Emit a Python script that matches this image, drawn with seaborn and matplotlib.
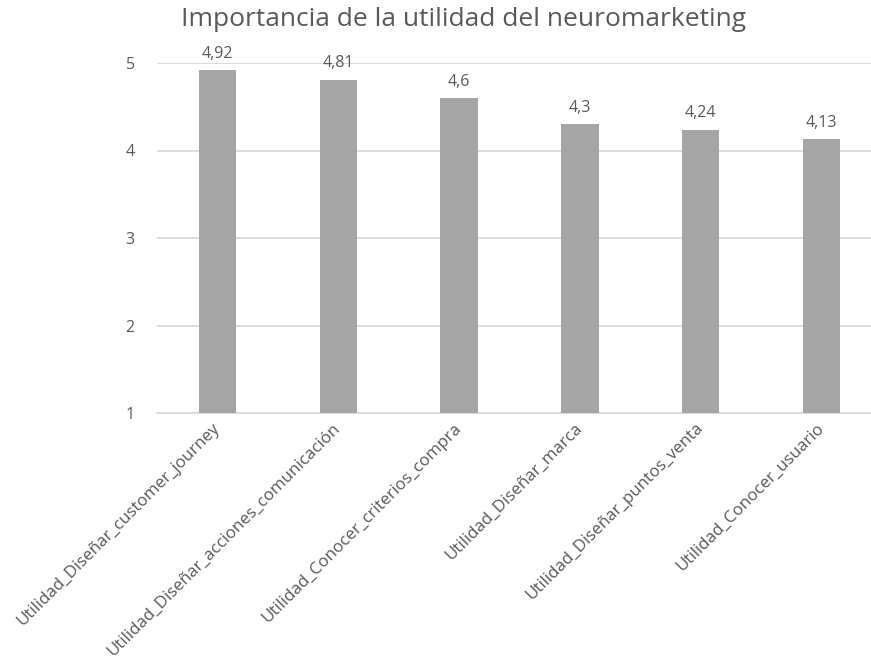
import matplotlib
matplotlib.use("Agg")
import matplotlib.pyplot as plt
import seaborn as sns
import pandas as pd

categories = [
    "Utilidad_Diseñar_customer_journey",
    "Utilidad_Diseñar_acciones_comunicación",
    "Utilidad_Conocer_criterios_compra",
    "Utilidad_Diseñar_marca",
    "Utilidad_Diseñar_puntos_venta",
    "Utilidad_Conocer_usuario",
]
values = [4.92, 4.81, 4.6, 4.3, 4.24, 4.13]
y_ticks = [1, 2, 3, 4, 5]
title = "Importancia de la utilidad del neuromarketing"

sns.set_theme(style="white")
plt.rcParams["font.family"] = ["Open Sans", "DejaVu Sans"]

text_color = "#595959"
bar_color = "#A5A5A5"
grid_color = "#D9D9D9"

df = pd.DataFrame({"categoria": categories, "valor": values})

fig = plt.figure(figsize=(8.71, 6.72), dpi=100)
W, H = 871, 672
ax = fig.add_axes([157 / W, 1 - 413 / H, 725 / W, 350 / H])

sns.barplot(data=df, x="categoria", y="valor", color=bar_color,
            width=0.31, saturation=1, ax=ax, zorder=3)
for p in ax.patches:
    p.set_edgecolor("none")

ax.set_ylim(1, 5)
ax.set_yticks(y_ticks)
ax.set_yticklabels([str(t) for t in y_ticks])
ax.yaxis.grid(True, color=grid_color, linewidth=1.3, zorder=0)
ax.xaxis.grid(False)
for s in ax.spines.values():
    s.set_visible(False)
ax.axhline(1, color=grid_color, linewidth=1.3, zorder=1, clip_on=False)

ax.set_xlabel("")
ax.set_ylabel("")
ax.tick_params(axis="y", length=0, pad=16, labelsize=11.5, labelcolor=text_color)
ax.tick_params(axis="x", length=0, pad=9, labelsize=12.2, labelcolor=text_color)
ax.set_xticks(range(len(categories)))
ax.set_xticklabels(categories, rotation=45, ha="right", va="center",
                   rotation_mode="anchor")

labels = [f"{v:g}".replace(".", ",") for v in values]
ax.bar_label(ax.containers[0], labels=labels, padding=6,
             fontsize=11.5, color=text_color)

fig.text(463 / W, 1 - 19 / H, title, ha="center", va="center",
         fontsize=19, color=text_color)

fig.savefig("out.png", dpi=100, facecolor="white")
